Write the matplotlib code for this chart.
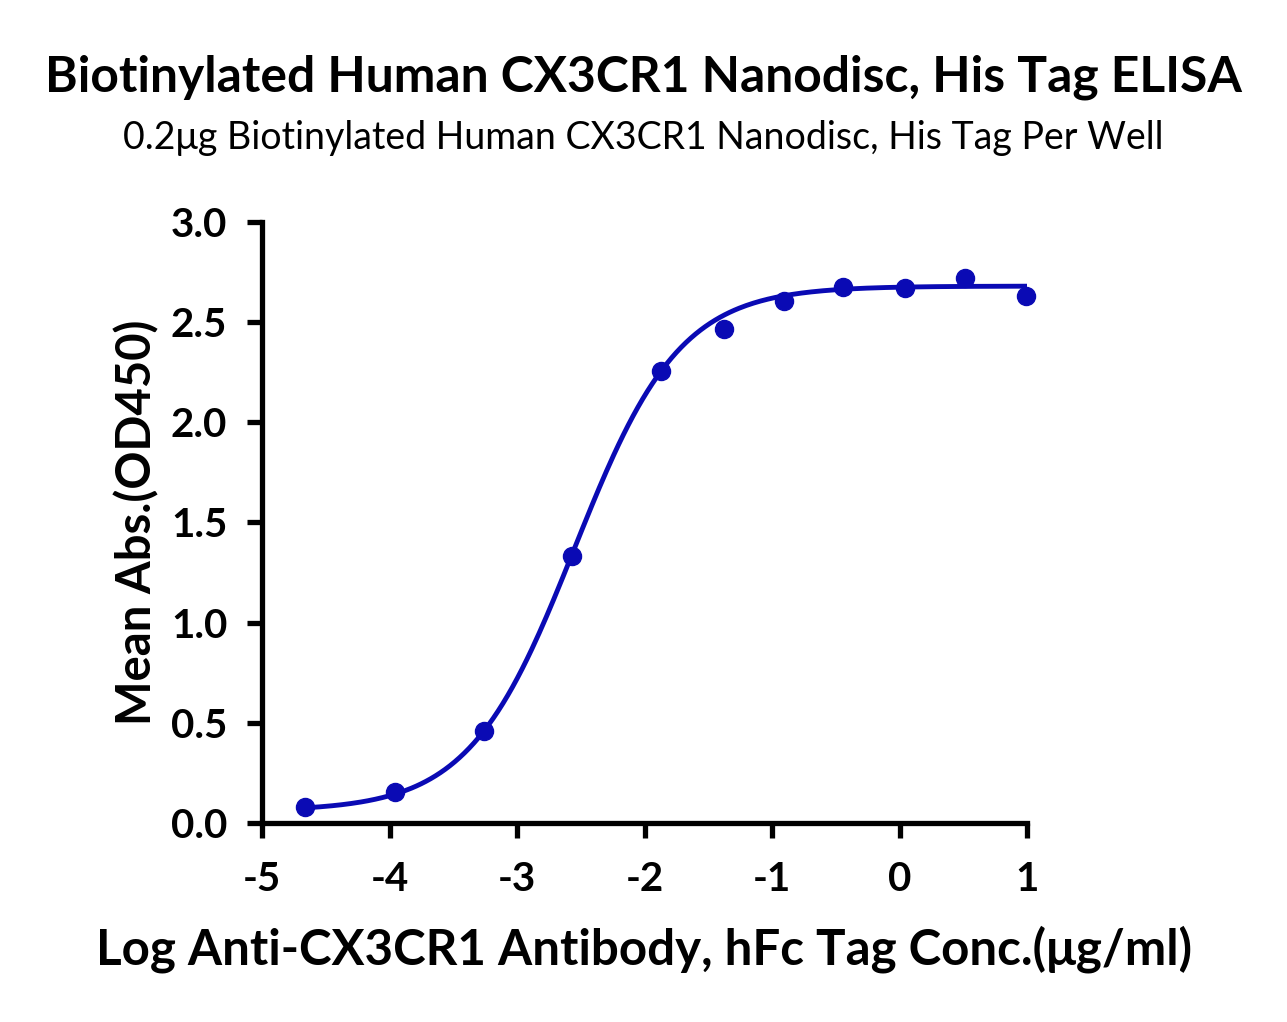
import numpy as np
import matplotlib
matplotlib.use("Agg")
import matplotlib.pyplot as plt

# measured points (log conc, OD450)
log_conc = [-4.66, -3.96, -3.26, -2.57, -1.87, -1.38, -0.91, -0.44, 0.04, 0.51, 0.99]
od450 = [0.08, 0.155, 0.46, 1.333, 2.257, 2.466, 2.606, 2.676, 2.671, 2.721, 2.631]

# 4PL fit parameters
bottom = 0.06
top = 2.68
log_ec50 = -2.55
hill = 1.05

xticks = [-5, -4, -3, -2, -1, 0, 1]
yticks = [0.0, 0.5, 1.0, 1.5, 2.0, 2.5, 3.0]

color = "#0a0ab4"
plt.rcParams["font.family"] = ["Lato", "DejaVu Sans"]

fig = plt.figure(figsize=(12.87, 10.22), dpi=100)
ax = fig.add_axes([0.2036, 0.1947, 0.5944, 0.5881])

xs = np.linspace(min(log_conc), max(log_conc), 300)
ys = bottom + (top - bottom) / (1 + 10 ** ((log_ec50 - xs) * hill))
ax.plot(xs, ys, color=color, lw=3.5, zorder=2)
ax.plot(log_conc, od450, "o", color=color, ms=13, zorder=3, clip_on=False)

ax.set_xlim(-5, 1)
ax.set_ylim(0, 3)
ax.set_xticks(xticks)
ax.set_xticklabels([str(t) for t in xticks])
ax.set_yticks(yticks)
ax.set_yticklabels([f"{t:.1f}" for t in yticks])
for s in ["top", "right"]:
    ax.spines[s].set_visible(False)
for s in ["left", "bottom"]:
    ax.spines[s].set_linewidth(3.8)
ax.tick_params(width=3.8, length=11, labelsize=29)
ax.tick_params(axis="x", pad=16)
ax.tick_params(axis="y", pad=14)
for lbl in ax.get_xticklabels() + ax.get_yticklabels():
    lbl.set_fontweight("bold")

ax.set_xlabel("Log Anti-CX3CR1 Antibody, hFc Tag Conc.(μg/ml)", fontsize=35.5, fontweight="bold", labelpad=20)
ax.set_ylabel("Mean Abs.(OD450)", fontsize=34, fontweight="bold", labelpad=8)

fig.text(0.5, 0.924, "Biotinylated Human CX3CR1 Nanodisc, His Tag ELISA", ha="center", va="center",
         fontsize=35.8, fontweight="bold")
fig.text(0.5, 0.865, "0.2μg Biotinylated Human CX3CR1 Nanodisc, His Tag Per Well", ha="center", va="center",
         fontsize=27)

fig.savefig("out.png", dpi=100)
